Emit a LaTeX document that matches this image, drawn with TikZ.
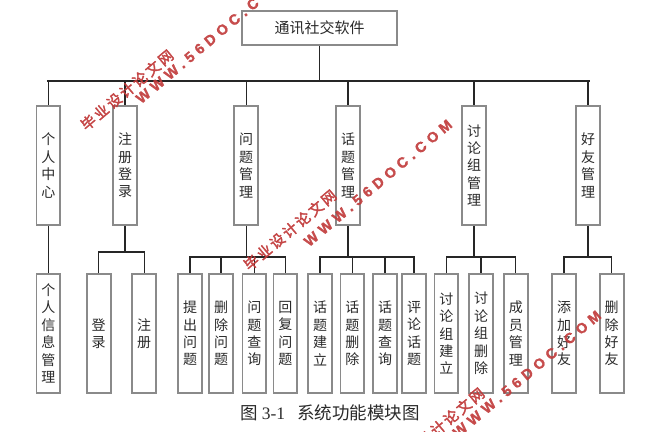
\documentclass[tikz,border=0pt]{standalone}
\usepackage{fontspec}
\newfontfamily\cjk{Noto Sans CJK SC}
\newfontfamily\cjkwm[LetterSpace=16,FakeBold=2.5]{Noto Sans CJK SC}
\newfontfamily\latwm[LetterSpace=33,FakeBold=1.5]{Liberation Sans Bold}
\newfontfamily\capserif{Liberation Serif}
\definecolor{boxgray}{HTML}{8A8A8A}
\definecolor{linecol}{HTML}{262626}
\definecolor{textcol}{HTML}{2A2A2A}
\definecolor{wmred}{HTML}{C23B3B}
\tikzset{
  vbox/.style={draw=boxgray, line width=1.3pt, fill=white, inner sep=0pt,
    minimum width=23pt, minimum height=119pt, align=center, text=textcol,
    font=\cjk\fontsize{14pt}{17.4pt}\selectfont},
  rootbox/.style={draw=boxgray, line width=1.3pt, fill=white, inner sep=0pt,
    minimum width=155pt, minimum height=34pt, text=textcol,
    font=\cjk\fontsize{15pt}{18pt}\selectfont},
  conn/.style={draw=linecol, line width=1.3pt},
  wmcn/.style={text=wmred, opacity=0.9, rotate=40, inner sep=0pt,
    font=\cjkwm\fontsize{14.5pt}{16pt}\selectfont},
  wmen/.style={text=wmred, opacity=0.9, rotate=40, inner sep=0pt,
    font=\latwm\fontsize{14.5pt}{16pt}\selectfont},
  captext/.style={text=textcol, inner sep=0pt, font=\fontsize{17.5pt}{20pt}\selectfont}
}
\begin{document}
\begin{tikzpicture}[x=1pt,y=-1pt]
\useasboundingbox (0,0) rectangle (663,431);
\fill[white] (0,0) rectangle (663,431);

% bus coordinates
\coordinate (busA) at (0,81);
\coordinate (busB) at (0,252);
\coordinate (busC) at (0,257);

% root
\node[rootbox] (root) at (319.5,28) {通讯社交软件};

% level 1
\node[vbox] (grzx) at (48.3,165.5) {个\\人\\中\\心};
\node[vbox] (zcdl) at (125,165.5) {注\\册\\登\\录};
\node[vbox] (wtgl) at (246.2,165.5) {问\\题\\管\\理};
\node[vbox] (htgl) at (348,165.5) {话\\题\\管\\理};
\node[vbox] (tlz) at (474,165.5) {讨\\论\\组\\管\\理};
\node[vbox] (hygl) at (588,165.5) {好\\友\\管\\理};

% level 2
\node[vbox] (grxx) at (48.3,333.5) {个\\人\\信\\息\\管\\理};
\node[vbox] (dl) at (98.7,333.5) {登\\录};
\node[vbox] (zc) at (144.2,333.5) {注\\册};
\node[vbox] (tcwt) at (190,333.5) {提\\出\\问\\题};
\node[vbox] (scwt) at (221,333.5) {删\\除\\问\\题};
\node[vbox] (wtcx) at (254.3,333.5) {问\\题\\查\\询};
\node[vbox] (hfwt) at (285.3,333.5) {回\\复\\问\\题};
\node[vbox] (htjl) at (320,333.5) {话\\题\\建\\立};
\node[vbox] (htsc) at (352.3,333.5) {话\\题\\删\\除};
\node[vbox] (htcx) at (385,333.5) {话\\题\\查\\询};
\node[vbox] (plht) at (414,333.5) {评\\论\\话\\题};
\node[vbox] (tljl) at (446.3,333.5) {讨\\论\\组\\建\\立};
\node[vbox] (tlsc) at (481,333.5) {讨\\论\\组\\删\\除};
\node[vbox] (cygl) at (515.8,333.5) {成\\员\\管\\理};
\node[vbox] (tjhy) at (564,333.5) {添\\加\\好\\友};
\node[vbox] (schy) at (611.7,333.5) {删\\除\\好\\友};

% connectors
\draw[conn] (root.south) -- (root.south |- busA);
\draw[conn] ([xshift=-1.5pt]grzx.north |- busA) -- ([xshift=2pt]hygl.north |- busA);
\foreach \n in {grzx,zcdl,wtgl,htgl,tlz,hygl}
  \draw[conn] (\n.north) -- (\n.north |- busA);

\draw[conn] (grzx.south) -- (grxx.north);

\draw[conn] (zcdl.south) -- (zcdl.south |- busB);
\draw[conn] (dl.north) -- (dl.north |- busB) -- (zc.north |- busB) -- (zc.north);

\draw[conn] (wtgl.south) -- (wtgl.south |- busC);
\draw[conn] (tcwt.north) -- (tcwt.north |- busC) -- (hfwt.north |- busC) -- (hfwt.north);
\foreach \n in {scwt,wtcx} \draw[conn] (\n.north) -- (\n.north |- busC);

\draw[conn] (htgl.south) -- (htgl.south |- busC);
\draw[conn] (htjl.north) -- (htjl.north |- busC) -- (plht.north |- busC) -- (plht.north);
\foreach \n in {htsc,htcx} \draw[conn] (\n.north) -- (\n.north |- busC);

\draw[conn] (tlz.south) -- (tlz.south |- busC);
\draw[conn] (tljl.north) -- (tljl.north |- busC) -- (cygl.north |- busC) -- (cygl.north);
\draw[conn] (tlsc.north) -- (tlsc.north |- busC);

\draw[conn] (hygl.south) -- (hygl.south |- busC);
\draw[conn] (tjhy.north) -- (tjhy.north |- busC) -- (schy.north |- busC) -- (schy.north);

% redraw box borders over connector ends
\foreach \n in {root,grzx,zcdl,wtgl,htgl,tlz,hygl,grxx,dl,zc,tcwt,scwt,wtcx,hfwt,htjl,htsc,htcx,plht,tljl,tlsc,cygl,tjhy,schy}
  \draw[boxgray, line width=1.3pt] (\n.north west) rectangle (\n.south east);

% caption
\node[captext] (cap) at (330,413) {{\cjk 图}\hspace{4pt}{\capserif 3-1}\hspace{12pt}{\cjk 系统功能模块图}};

% watermarks
\node[wmcn] (wm1c) at (127,90) {毕业设计论文网};
\node[wmen] (wm1e) at (210,40) {WWW.56DOC.COM};
\node[wmcn] (wm2c) at (290,230) {毕业设计论文网};
\node[wmen] (wm2e) at (378,183) {WWW.56DOC.COM};
\node[wmcn] (wm3c) at (438,428) {毕业设计论文网};
\node[wmen] (wm3e) at (527,374) {WWW.56DOC.COM};
\end{tikzpicture}
\end{document}
